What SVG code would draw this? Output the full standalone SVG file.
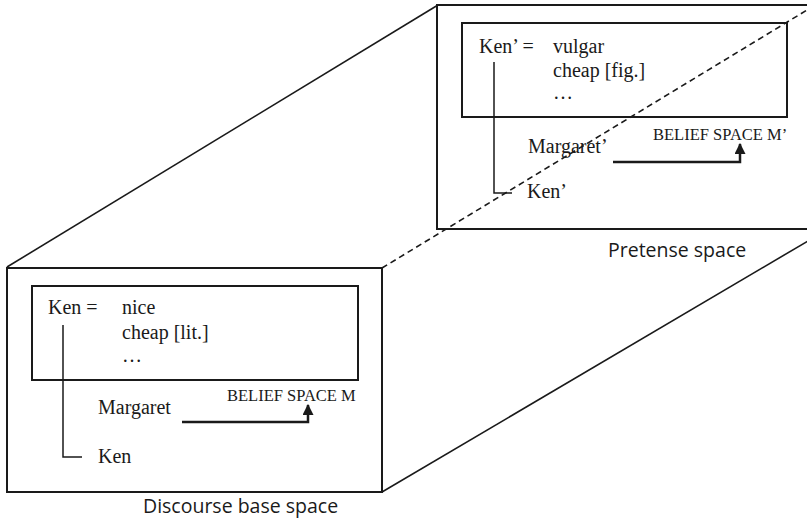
<svg xmlns="http://www.w3.org/2000/svg" width="807" height="521" viewBox="0 0 807 521">
<style>
.frame{fill:none;stroke:#1a1a1a;stroke-width:2}
.edge{fill:none;stroke:#1a1a1a;stroke-width:1.6}
.dash{fill:none;stroke:#1a1a1a;stroke-width:1.6;stroke-dasharray:6 4}
.box{fill:none;stroke:#1a1a1a;stroke-width:2}
.link{fill:none;stroke:#1a1a1a;stroke-width:1.5}
.arrow{fill:none;stroke:#1a1a1a;stroke-width:2.5}
.t{font-family:"Liberation Serif","Times New Roman",serif;font-size:20px;fill:#1a1a1a}
.s{font-family:"Liberation Serif","Times New Roman",serif;font-size:16.5px;fill:#1a1a1a}
.cap{font-family:"Open Sans","Noto Sans",sans-serif;font-size:19.5px;fill:#1a1a1a}
</style>
<defs>
<marker id="ah" viewBox="0 0 10 10" refX="9" refY="5" markerWidth="4.4" markerHeight="4.4" orient="auto" markerUnits="strokeWidth">
<path d="M0,0 L10,5 L0,10 z" fill="#1a1a1a"/>
</marker>
</defs>
<rect width="807" height="521" fill="#fff"/>
<g id="prism">
<line class="edge" x1="7" y1="267" x2="438" y2="5"/>
<line class="edge" x1="382" y1="492" x2="830" y2="228"/>
<line class="dash" x1="382" y1="268" x2="812" y2="7"/>
</g>
<g id="pretense-space">
<path class="frame" d="M810,5 H437 V229 H810"/>
<rect class="box" x="462" y="23" width="325" height="94"/>
<text class="t" x="479" y="53">Ken’ =</text>
<text class="t" x="553" y="53">vulgar</text>
<text class="t" x="553" y="77">cheap [fig.]</text>
<text class="t" x="553" y="99" font-size="14">…</text>
<text class="t" x="528" y="153">Margaret’</text>
<text class="s" x="653" y="140">BELIEF SPACE M’</text>
<text class="t" x="527" y="198">Ken’</text>
<text class="cap" x="608" y="257">Pretense space</text>
</g>
<g id="discourse-base-space">
<rect class="frame" x="7" y="268" width="375" height="224"/>
<rect class="box" x="32" y="286" width="326" height="94"/>
<text class="t" x="48" y="314">Ken =</text>
<text class="t" x="122" y="314">nice</text>
<text class="t" x="122" y="339">cheap [lit.]</text>
<text class="t" x="122" y="362" font-size="14">…</text>
<text class="t" x="98" y="414">Margaret</text>
<text class="s" x="227" y="401">BELIEF SPACE M</text>
<text class="t" x="98" y="463">Ken</text>
<text class="cap" x="143" y="513">Discourse base space</text>
</g>
<g id="connectors">
<path class="link" d="M63,325 V457 H82"/>
<path class="arrow" d="M182,422 H308 V405" marker-end="url(#ah)"/>
<path class="link" d="M494,62 V193 H512"/>
<path class="arrow" d="M613,162 H740 V144" marker-end="url(#ah)"/>
</g>
</svg>
